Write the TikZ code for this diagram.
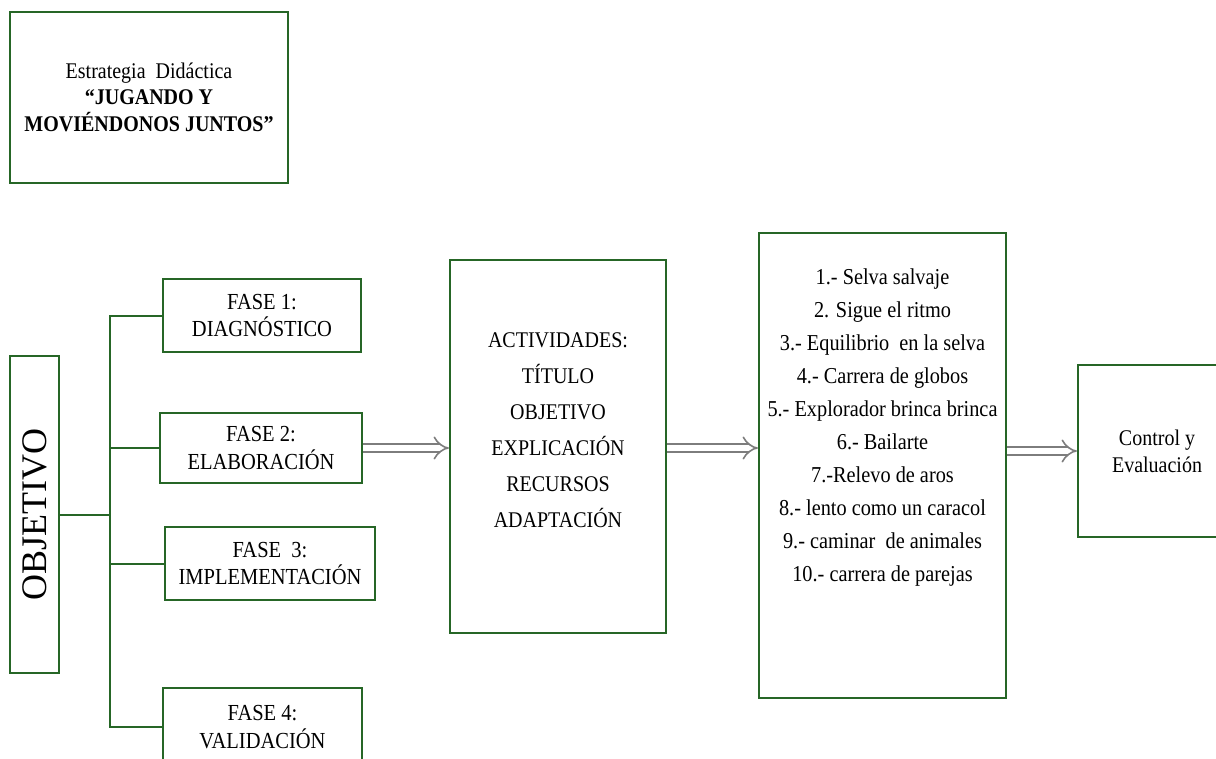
\documentclass[tikz,border=0pt]{standalone}
\usepackage{fontspec}
\usepackage{graphicx}
\setmainfont{Liberation Serif}
\usetikzlibrary{arrows.meta,positioning}

\definecolor{boxgreen}{RGB}{38,102,38}
\definecolor{arrowgray}{RGB}{125,125,125}

% text in the reference is slightly taller than wide
\newcommand\stretched[1]{\raisebox{0pt}[\dimexpr\height+2.5pt][\dimexpr\depth-2.5pt]{%
  \scalebox{1}[1.12]{\begin{tabular}{@{}c@{}}#1\end{tabular}}}}

\tikzset{
  box/.style={draw=boxgreen, line width=2.2pt, fill=white, inner sep=0pt, align=center},
  link/.style={draw=boxgreen, line width=2pt},
  hollow/.style={draw=arrowgray, line width=1.6pt, double=white, double distance=6.5pt, -{Implies}},
  fasetxt/.style={font=\fontsize{20.5}{23.2}\selectfont},
  listtxt/.style={align=center, inner sep=0pt},
}

\begin{document}
\begin{tikzpicture}[x=1pt,y=-1pt]

\fill[white] (0,0) rectangle (1216,758);
\useasboundingbox (0,0) rectangle (1216,758);

% title
\node[box, minimum width=278, minimum height=171, font=\fontsize{20}{22.8}\selectfont] (titulo) at (149,97.5)
  {\stretched{Estrategia~~Didáctica\\\textbf{“JUGANDO Y}\\\textbf{MOVIÉNDONOS JUNTOS”}}};

% objective and phases
\node[box, minimum width=49, minimum height=317, font=\fontsize{36}{36}\selectfont] (obj) at (34.5,514.5)
  {\rotatebox{90}{OBJETIVO}};

\node[box, fasetxt, minimum width=198, minimum height=73] (fase1) at (262,315.5) {\stretched{FASE 1:\\DIAGNÓSTICO}};
\node[box, fasetxt, minimum width=202, minimum height=70] (fase2) at (261,448) {\stretched{FASE 2:\\ELABORACIÓN}};
\node[box, fasetxt, minimum width=210, minimum height=73] (fase3) at (270,563.5) {\stretched{FASE~~3:\\IMPLEMENTACIÓN}};
\node[box, fasetxt, minimum width=199, minimum height=78] (fase4) at (262.5,727) {\stretched{FASE 4:\\VALIDACIÓN}};

\coordinate (fork) at (110,514.5);
\draw[link] (obj.east) -- (fork);
\draw[link] (fase1.west) -| (fork) |- (fase4.west);
\draw[link] (fase2.west) -- (fase2.west -| fork);
\draw[link] (fase3.west) -- (fase3.west -| fork);

% activities
\node[box, minimum width=216, minimum height=373] (act) at (558,446.5) {};
\node[listtxt, font=\fontsize{20}{32.1}\selectfont] (acttxt) at (558,428)
  {\stretched{ACTIVIDADES:\\TÍTULO\\OBJETIVO\\EXPLICACIÓN\\RECURSOS\\ADAPTACIÓN}};

\node[box, minimum width=247, minimum height=465] (lista) at (882.5,465.5) {};
\node[listtxt, font=\fontsize{20.3}{29.5}\selectfont] (listatxt) at (882.5,424)
  {\stretched{1.- Selva salvaje\\
   2. Sigue el ritmo\\
   3.- Equilibrio~~en la selva\\
   4.- Carrera de globos\\
   5.- Explorador brinca brinca\\
   6.- Bailarte\\
   7.-Relevo de aros\\
   8.- lento~como un caracol\\
   9.- caminar~~de animales\\
   10.- carrera de parejas}};

\node[box, minimum width=158, minimum height=172, font=\fontsize{20}{24.1}\selectfont] (ctrl) at (1157,451)
  {\stretched{Control y\\Evaluación}};

% arrows
\draw[hollow] (fase2.east) -- (fase2.east -| act.west);
\draw[hollow] (act.east |- fase2.east) -- (lista.west |- fase2.east);
\draw[hollow] (lista.east |- ctrl.west) -- (ctrl.west);

\end{tikzpicture}
\end{document}
